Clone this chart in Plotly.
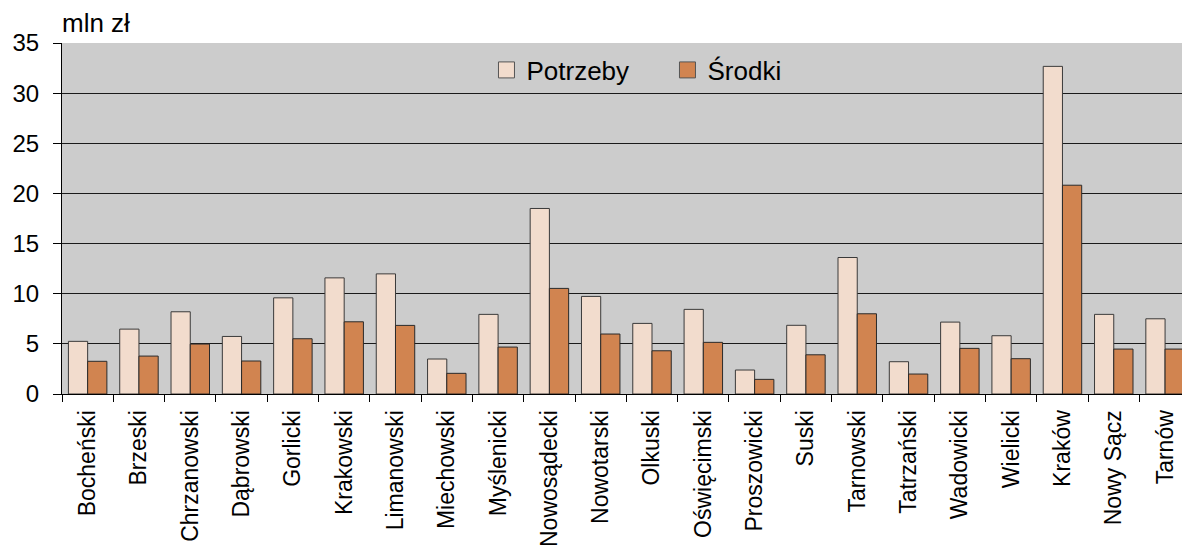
import plotly.graph_objects as go

categories = ["Bocheński", "Brzeski", "Chrzanowski", "Dąbrowski", "Gorlicki", "Krakowski",
              "Limanowski", "Miechowski", "Myślenicki", "Nowosądecki", "Nowotarski", "Olkuski",
              "Oświęcimski", "Proszowicki", "Suski", "Tarnowski", "Tatrzański", "Wadowicki",
              "Wielicki", "Kraków", "Nowy Sącz", "Tarnów"]
potrzeby = [5.25, 6.47, 8.2, 5.74, 9.59, 11.58, 11.98, 3.49, 7.94, 18.5, 9.73, 7.04,
            8.44, 2.39, 6.85, 13.61, 3.22, 7.17, 5.81, 32.67, 7.94, 7.5]
srodki = [3.26, 3.78, 4.98, 3.29, 5.51, 7.2, 6.84, 2.06, 4.68, 10.53, 5.98, 4.31,
          5.15, 1.46, 3.91, 8.0, 1.99, 4.55, 3.52, 20.82, 4.48, 4.48]
series_names = ["Potrzeby", "Środki"]
y_ticks = [0, 5, 10, 15, 20, 25, 30, 35]

c_pot = "#F2DCCD"
c_sro = "#D18450"
FONT = "Liberation Sans, Arial, sans-serif"

fig = go.Figure()
fig.add_trace(go.Bar(x=categories, y=potrzeby, name=series_names[0], marker_color=c_pot,
                     marker_line=dict(color="#3a3a3a", width=1), showlegend=False))
fig.add_trace(go.Bar(x=categories, y=srodki, name=series_names[1], marker_color=c_sro,
                     marker_line=dict(color="#2a2a2a", width=1), showlegend=False))
# legend entries
for nm, col in zip(series_names, [c_pot, c_sro]):
    fig.add_trace(go.Scatter(x=[None], y=[None], mode="markers", name=nm,
                             marker=dict(symbol="square", size=19, color=col,
                                         line=dict(color="#555555", width=1))))

fig.update_layout(
    width=1182, height=547,
    margin=dict(l=62, r=0, t=43, b=153),
    paper_bgcolor="white", plot_bgcolor="#CCCCCC",
    barmode="group", bargap=0.25, bargroupgap=0,
    font=dict(family=FONT, size=24, color="black"),
    legend=dict(orientation="h", x=0.379, xanchor="left", y=0.99, yanchor="top",
                bgcolor="rgba(0,0,0,0)", font=dict(size=26, family=FONT),
                entrywidth=136, entrywidthmode="pixels", itemsizing="trace"),
    annotations=[dict(text="mln zł", xref="paper", yref="paper", x=0, y=1,
                      xanchor="left", yanchor="bottom", showarrow=False,
                      font=dict(size=26, family=FONT), xshift=-2, yshift=3)],
)
fig.update_xaxes(range=[-0.5, 21.33], showline=True, linecolor="black", linewidth=1,
                 ticks="outside", tickson="boundaries", ticklen=7, tickcolor="black",
                 tickangle=-90, tickfont=dict(size=23, family=FONT), showgrid=False,
                 zeroline=False, automargin=False, ticklabelstandoff=6)
fig.update_yaxes(range=[0, 35], tickvals=y_ticks, showline=True, linecolor="black", linewidth=1,
                 ticks="outside", ticklen=8, tickcolor="black", gridcolor="#1a1a1a",
                 gridwidth=1, zeroline=False, tickfont=dict(size=24, family=FONT),
                 ticklabelstandoff=9, automargin=False)

fig.write_html("out.html", config={"displayModeBar": False},
               post_script="document.body.style.margin='0';document.body.style.overflow='hidden';")
